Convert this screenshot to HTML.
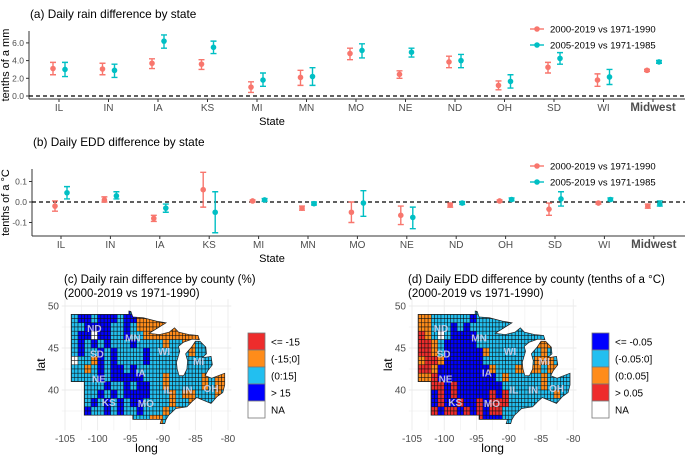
<!DOCTYPE html>
<html><head><meta charset="utf-8"><style>
body{margin:0;background:#fff;}
svg{display:block;font-family:"Liberation Sans",sans-serif;}
</style></head><body>
<svg id="fig" width="685" height="455" viewBox="0 0 685 455" xmlns="http://www.w3.org/2000/svg"></svg>
<script>
// ---------- data ----------
const states = ["IL","IN","IA","KS","MI","MN","MO","NE","ND","OH","SD","WI","Midwest"];
const rainRed = [3.1,3.05,3.7,3.6,1.0,2.1,4.8,2.45,3.85,1.2,3.25,1.8,2.9];
const rainRedLo = [2.4,2.4,3.1,3.0,0.4,1.2,4.1,2.0,3.2,0.7,2.6,1.1,2.78];
const rainRedHi = [3.8,3.7,4.2,4.1,1.6,2.9,5.4,2.85,4.5,1.7,3.8,2.5,3.02];
const rainTeal = [3.0,2.9,6.2,5.5,1.8,2.2,5.15,4.95,4.0,1.65,4.25,2.15,3.85];
const rainTealLo = [2.2,2.1,5.4,4.8,1.1,1.2,4.3,4.4,3.2,0.9,3.6,1.3,3.7];
const rainTealHi = [3.8,3.6,6.9,6.2,2.6,3.2,5.9,5.4,4.7,2.4,4.9,3.0,4.02];
const eddRed = [-0.02,0.01,-0.08,0.06,0.005,-0.03,-0.05,-0.065,-0.015,0.005,-0.035,-0.005,-0.02];
const eddRedLo = [-0.045,0.0,-0.095,-0.025,0.0,-0.04,-0.1,-0.11,-0.025,0.0,-0.065,-0.01,-0.03];
const eddRedHi = [0.005,0.025,-0.065,0.145,0.01,-0.02,0.0,-0.02,-0.005,0.01,-0.005,0.0,-0.01];
const eddTeal = [0.045,0.03,-0.03,-0.05,0.01,-0.008,-0.005,-0.075,-0.005,0.012,0.015,0.012,-0.01];
const eddTealLo = [0.015,0.015,-0.05,-0.15,0.003,-0.015,-0.07,-0.13,-0.012,0.005,-0.02,0.005,-0.02];
const eddTealHi = [0.075,0.05,-0.01,0.05,0.017,0.0,0.055,-0.025,0.002,0.02,0.05,0.02,0.005];
const rainTicks = [0,2,4,6];
const eddTicks = [-0.1,0,0.1];
// county-ish map grids (1° cells, rows lat 50→36, cols lon -104→-80)
const rainGrid = [
"ccccccccbccccccccccccccc",
"cbbcbbbcbboooooooooccccc",
"ccbbbbccbcoooooooooccccc",
"cbbnbbccbccooooooooooccc",
"cbcbcbcccbccccoccooccccc",
"cbccbcbccccbccccccoccccc",
"nccobcbccccbcccccccccccc",
"ccocbcbbcbccccccccccccco",
"ccccbcbbbbbcccocccccocoo",
"cccccbccbcbbccocccccocoo",
"cbccbcbcbbbbcccocoocccoc",
"cbcbcbcbcbbccccoccooccoc",
"bcbccbcbccbcccococcccccc",
"cccccbccccccooccccccccco"];
const eddGrid = [
"cccccccccccccccccccccccc",
"ooccccccbccccccccccccccc",
"oocccbcbcccccccccccccccc",
"rocncbbbbccccccccccccccc",
"rrocbbbbbcccccccccoooccc",
"rrocbbbbbboccccccccocooo",
"orrobbbbbbccccccccooocco",
"rrobbbbbbbbocccoooocoooc",
"oorbbbbbbbbbcocccccocccco",
"ccrrbrbbbbbbbccccccocccc",
"crbrbrbbbbbrbrcccccccocc",
"crbrbbrbbrbrrrcccccccccc",
"crrbrrbrbrbrrccccccccccc",
"crbrrbrrbrbbbccccccccccc"];

// ---------- helpers ----------
const NS="http://www.w3.org/2000/svg";
const svg=document.getElementById('fig');
function mk(tag,attrs,parent){const e=document.createElementNS(NS,tag);for(const k in attrs)e.setAttribute(k,attrs[k]);(parent||svg).appendChild(e);return e;}
function txt(x,y,s,size,opts,parent){const t=mk('text',Object.assign({x:x,y:y,'font-size':size,fill:'#000'},opts||{}),parent);t.textContent=s;return t;}
const RED="#F8766D",TEAL="#00BFC4";

function panel(opt){
  const g=mk('g',{});
  
  
  const xs=i=>opt.x0+opt.dx*i;
  const ys=v=>opt.yZero-v*opt.yk;
  const t=txt(opt.titleX,opt.titleY,opt.title,11.8,{},g);
  
  const ya=mk('line',{x1:opt.ax,y1:opt.top,x2:opt.ax,y2:opt.bot,stroke:'#333','stroke-width':1},g);
  
  const xa=mk('line',{x1:opt.ax,y1:opt.bot,x2:685,y2:opt.bot,stroke:'#333','stroke-width':1},g);
  
  opt.ticks.forEach(v=>{
    mk('line',{x1:opt.ax-3,y1:ys(v),x2:opt.ax,y2:ys(v),stroke:'#333'},g);
    const l=txt(opt.ax-5,ys(v)+3,opt.fmt(v),8.5,{fill:'#4d4d4d','text-anchor':'end'},g);
    
  });
  states.forEach((s,i)=>{
    mk('line',{x1:xs(i),y1:opt.bot,x2:xs(i),y2:opt.bot+3,stroke:'#333'},g);
    const l=txt(xs(i),opt.bot+12,s,s==='Midwest'?11.5:10,{fill:'#4d4d4d','text-anchor':'middle','font-weight':s==='Midwest'?'bold':'normal'},g);
    
  });
  const xt=txt(272,opt.bot+26,'State',11,{'text-anchor':'middle'},g);
  
  const yt=txt(0,0,opt.ylab,11,{'text-anchor':'middle',transform:`translate(9,${(opt.top+opt.bot)/2}) rotate(-90)`},g);
  
  const zl=mk('line',{x1:opt.ax,y1:ys(0),x2:685,y2:ys(0),stroke:'#000','stroke-width':1.2,'stroke-dasharray':'4,3'},g);
  
  const series=[[opt.red,opt.redLo,opt.redHi,RED,-6],[opt.teal,opt.tealLo,opt.tealHi,TEAL,6]];
  series.forEach(([v,lo,hi,col,off])=>{
    v.forEach((val,i)=>{
      const x=xs(i)+off;
      const eb=mk('path',{d:`M${x-3},${ys(hi[i])}H${x+3}M${x},${ys(hi[i])}V${ys(lo[i])}M${x-3},${ys(lo[i])}H${x+3}`,stroke:col,'stroke-width':1.4,fill:'none'},g);
      
      const p=mk('circle',{cx:x,cy:ys(val),r:2.8,fill:col},g);
      
    });
  });
  [["2000-2019 vs 1971-1990",RED,opt.legY],["2005-2019 vs 1971-1985",TEAL,opt.legY+16]].forEach(([s,c,y])=>{
    const lg=mk('g',{},g);
    
    mk('line',{x1:530,y1:y,x2:544,y2:y,stroke:c,'stroke-width':1.4},lg);
    mk('circle',{cx:537,cy:y,r:2.8,fill:c},lg);
    txt(550,y+3.5,s,9.5,{},lg);
  });
}
panel({name:'panel-a-rain',title:'(a) Daily rain difference by state',titleX:30,titleY:18,ax:29,top:31,bot:99,x0:59,dx:49.5,yZero:96,yk:8.85,ticks:rainTicks,fmt:v=>v.toFixed(1),ylab:'tenths of a mm',
 red:rainRed,redLo:rainRedLo,redHi:rainRedHi,teal:rainTeal,tealLo:rainTealLo,tealHi:rainTealHi,legY:29});
panel({name:'panel-b-edd',title:'(b) Daily EDD difference by state',titleX:33,titleY:146,ax:32,top:169,bot:236,x0:61,dx:49.4,yZero:202,yk:205,ticks:eddTicks,fmt:v=>v.toFixed(1),ylab:'tenths of a °C',
 red:eddRed,redLo:eddRedLo,redHi:eddRedHi,teal:eddTeal,tealLo:eddTealLo,tealHi:eddTealHi,legY:166});

// ---------- maps ----------
const outline=[[-104.05,49],[-95.2,49],[-95.2,49.4],[-94.9,49.35],[-94.6,48.7],[-93,48.6],[-91,48.2],[-89.5,48.0],[-92.1,46.75],[-90.5,46.6],[-89,46.9],[-88.2,47.4],[-87.6,46.9],[-86,46.6],[-84.6,46.5],[-84.4,46],[-85.5,46.05],[-86.8,45.7],[-87.6,45.2],[-87.4,44.6],[-87.9,43.3],[-87.8,42.5],[-87.5,41.7],[-86.8,41.7],[-86.3,42.5],[-86.2,43.5],[-86.5,44.3],[-85.6,45.1],[-85,45.8],[-84.3,45.8],[-83.4,45.1],[-83.3,44.3],[-83.9,43.9],[-83.4,43.9],[-82.6,44.0],[-82.4,43],[-83.1,42.3],[-83.5,41.7],[-82.5,41.4],[-80.5,42],[-80.5,40.6],[-80.8,39.7],[-81.7,39.2],[-82.6,38.4],[-84.8,39.1],[-85.4,38.7],[-86.3,38.0],[-88.0,37.8],[-89.1,37.0],[-89.5,36.5],[-89.7,36.0],[-90.4,36.0],[-90.2,36.5],[-94.6,36.5],[-94.6,37.0],[-102.05,37.0],[-102.05,41.0],[-104.05,41.0]];
const labels=[["ND",-100.5,47.3],["MN",-94.6,46.2],["SD",-100.1,44.3],["WI",-89.8,44.6],["MI",-84.5,43.4],["IA",-93.4,42.0],["NE",-99.8,41.3],["IL",-89.2,40.0],["IN",-86.2,40.0],["OH",-82.6,40.2],["KS",-98.3,38.5],["MO",-92.6,38.4]];
const COL={r:'#EE2C2C',o:'#FF8C1A',c:'#22BFF0',b:'#0000FF',n:'#FFFFFF'};
function map(o){
  const g=mk('g',{});
  
  const X=l=>o.x0+(l+105)*o.kx, Y=l=>o.y50+(50-l)*o.ky;
  const t1=txt(o.tx,283,o.title,o.tsize,{},g);
  const t2=txt(o.tx,297,'(2000-2019 vs 1971-1990)',11.5,{},g);
  for(let lo=-105;lo<=-80;lo+=2.5){mk('line',{x1:X(lo),y1:Y(50.8),x2:X(lo),y2:Y(35.2),stroke:'#ebebeb','stroke-width':lo%5===0?0.9:0.5},g);}
  for(let la=37.5;la<=50;la+=2.5){mk('line',{x1:X(-105.5),y1:Y(la),x2:X(-79.5),y2:Y(la),stroke:'#ebebeb','stroke-width':la%5===0?0.9:0.5},g);}
  [-105,-100,-95,-90,-85,-80].forEach(v=>{const l=txt(X(v),442,String(v),10,{fill:'#4d4d4d','text-anchor':'middle'},g);});
  [40,45,50].forEach(v=>{const l=txt(X(-105)-6,Y(v)+3.5,String(v),10,{fill:'#4d4d4d','text-anchor':'end'},g);});
  const xl=txt(X(-92.5),452,'long',12,{'text-anchor':'middle'},g);
  const yl=txt(0,0,'lat',12,{'text-anchor':'middle',transform:`translate(${X(-105)-20},${Y(43)}) rotate(-90)`},g);
  const cid='clip'+o.name;
  const cp=mk('clipPath',{id:cid},g);
  mk('polygon',{points:outline.map(p=>X(p[0])+','+Y(p[1])).join(' ')},cp);
  const cells=mk('g',{'clip-path':`url(#${cid})`},g);
  
  o.grid.forEach((row,j)=>{
    for(let i=0;i<24;i++){
      const code=row[i]||'c';
      for(let a=0;a<2;a++)for(let b=0;b<2;b++){
        const lo=-104+i+a*0.5, la=50-j-b*0.5;
        mk('rect',{x:X(lo),y:Y(la),width:o.kx*0.5,height:o.ky*0.5,fill:COL[code],stroke:'#111','stroke-width':0.5},cells);
      }
    }
  });
  mk('polygon',{points:outline.map(p=>X(p[0])+','+Y(p[1])).join(' '),fill:'none',stroke:'#222','stroke-width':0.7},g);
  labels.forEach(([s,lo,la])=>{const l=txt(X(lo),Y(la)+3.5,s,10,{fill:'#d9d6ee','text-anchor':'middle','font-weight':'bold','fill-opacity':0.85},g);});
  o.leg.forEach(([code,s],k)=>{
    const lg=mk('g',{},g);
    
    mk('rect',{x:o.lx,y:333+k*17,width:17,height:17,fill:COL[code],stroke:'#777','stroke-width':0.8},lg);
    txt(o.lx+23,333+k*17+12.5,s,10,{},lg);
  });
}
map({name:'map-c-rain',title:'(c) Daily rain difference by county (%)',tsize:11.5,tx:64,x0:65,kx:6.52,y50:306,ky:8.4,grid:rainGrid,lx:248,
 leg:[['r','<= -15'],['o','(-15;0]'],['c','(0:15]'],['b','> 15'],['n','NA']]});
map({name:'map-d-edd',title:'(d) Daily EDD difference by county (tenths of a °C)',tsize:11.5,tx:408,x0:412,kx:6.45,y50:306,ky:8.4,grid:eddGrid,lx:592,
 leg:[['b','<= -0.05'],['c','(-0.05:0]'],['o','(0:0.05]'],['r','> 0.05'],['n','NA']]});
</script>
</body></html>
